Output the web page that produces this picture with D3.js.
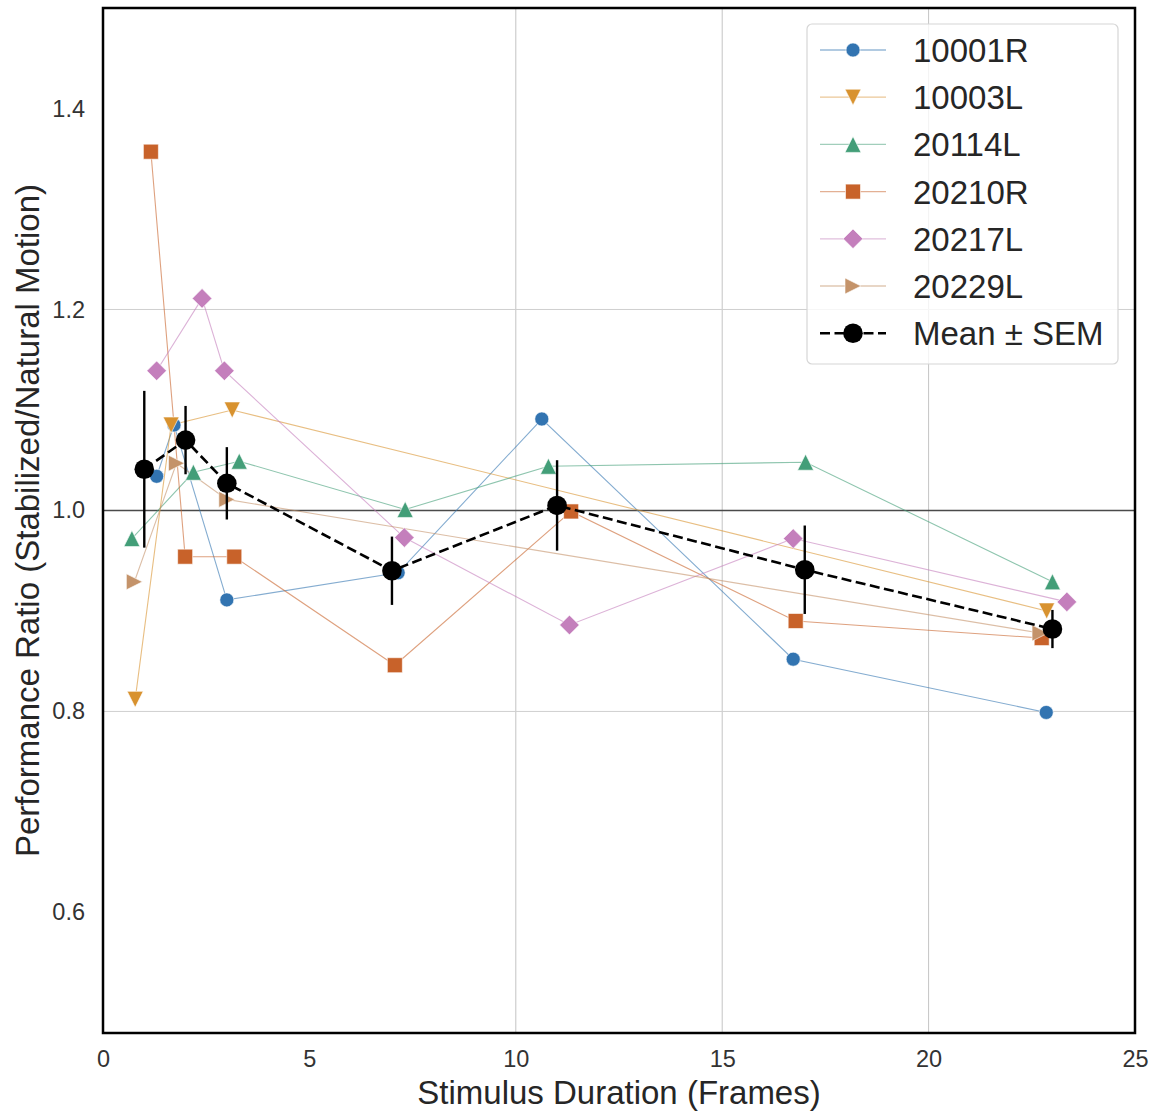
<!DOCTYPE html>
<html>
<head>
<meta charset="utf-8">
<script src="https://cdn.jsdelivr.net/npm/d3@7"></script>
<style>
  body { margin: 0; background: #fff; }
  text { font-family: "Liberation Sans", Arial, sans-serif; }
</style>
</head>
<body>
<div id="chart"></div>
<script>
// Subject series (x = stimulus duration in frames, jittered; y = performance ratio)
const subjects = ['10001R', '10003L', '20114L', '20210R', '20217L', '20229L'];
const colors = ['#3274b1', '#d8922f', '#439e78', '#c8622a', '#c47fbc', '#c4936a'];
const markers = ['circle', 'triDown', 'triUp', 'square', 'diamond', 'triRight'];

const x10001R = [1.30, 1.72, 3.00, 7.15, 10.63, 16.72, 22.85];
const y10001R = [1.034, 1.085, 0.911, 0.938, 1.091, 0.852, 0.799];
const x10003L = [0.78, 1.65, 3.13, 22.86];
const y10003L = [0.812, 1.085, 1.100, 0.900];
const x20114L = [0.70, 2.19, 3.30, 7.32, 10.79, 17.02, 23.00];
const y20114L = [0.972, 1.038, 1.049, 1.001, 1.044, 1.048, 0.929];
const x20210R = [1.16, 1.99, 3.18, 7.07, 11.34, 16.78, 22.74];
const y20210R = [1.357, 0.954, 0.954, 0.846, 0.999, 0.890, 0.873];
const x20217L = [1.30, 2.40, 2.94, 7.30, 11.30, 16.72, 23.35];
const y20217L = [1.139, 1.211, 1.139, 0.973, 0.886, 0.972, 0.909];
const x20229L = [0.76, 1.78, 3.00, 22.70];
const y20229L = [0.929, 1.047, 1.011, 0.878];

// Mean ± SEM across subjects
const meanX = [1, 2, 3, 7, 11, 17, 23];
const meanY = [1.041, 1.070, 1.027, 0.940, 1.005, 0.941, 0.882];
const meanSem = [0.078, 0.034, 0.036, 0.034, 0.045, 0.044, 0.019];

const xTicks = [0, 5, 10, 15, 20, 25];
const yTicks = [0.6, 0.8, 1.0, 1.2, 1.4];
const xGrid = [10, 15, 20];
const yGrid = [0.8, 1.2];

const seriesX = [x10001R, x10003L, x20114L, x20210R, x20217L, x20229L];
const seriesY = [y10001R, y10003L, y20114L, y20210R, y20217L, y20229L];
const series = subjects.map((name, i) => ({
  name,
  color: colors[i],
  marker: markers[i],
  points: seriesX[i].map((x, j) => ({ x, y: seriesY[i][j] }))
}));
const meanData = meanX.map((x, i) => ({ x, y: meanY[i], sem: meanSem[i] }));

const width = 1156, height = 1115;
const margin = { top: 8, right: 21, bottom: 82, left: 103 };
const innerW = width - margin.left - margin.right;
const innerH = height - margin.top - margin.bottom;

const x = d3.scaleLinear().domain([0, 25]).range([0, innerW]);
const y = d3.scaleLinear().domain([0.48, 1.5]).range([innerH, 0]);

const svg = d3.select('#chart').append('svg')
  .attr('width', width)
  .attr('height', height);

const g = svg.append('g').attr('transform', `translate(${margin.left},${margin.top})`);

// marker path generator (size s is roughly the half-width)
function markerPath(type, s) {
  switch (type) {
    case 'circle': return d3.symbol(d3.symbolCircle, Math.PI * s * s)();
    case 'square': return `M${-s},${-s}H${s}V${s}H${-s}Z`;
    case 'diamond': return `M0,${-s}L${s},0L0,${s}L${-s},0Z`;
    case 'triUp': return `M0,${-s}L${s},${s}L${-s},${s}Z`;
    case 'triDown': return `M0,${s}L${s},${-s}L${-s},${-s}Z`;
    case 'triRight': return `M${s},0L${-s},${s}L${-s},${-s}Z`;
  }
}
const markerSize = { circle: 7, square: 7.5, diamond: 9.8, triUp: 8, triDown: 8, triRight: 8 };

// gridlines
g.selectAll('.xgrid').data(xGrid).enter().append('line')
  .attr('class', 'xgrid')
  .attr('x1', d => x(d)).attr('x2', d => x(d))
  .attr('y1', 0).attr('y2', innerH)
  .attr('stroke', '#c4c4c4').attr('stroke-width', 1);

g.selectAll('.ygrid').data(yGrid).enter().append('line')
  .attr('class', 'ygrid')
  .attr('x1', 0).attr('x2', innerW)
  .attr('y1', d => y(d)).attr('y2', d => y(d))
  .attr('stroke', '#cfcfcf').attr('stroke-width', 1);

// reference line at 1.0
g.append('line')
  .attr('x1', 0).attr('x2', innerW)
  .attr('y1', y(1)).attr('y2', y(1))
  .attr('stroke', '#4a4a4a').attr('stroke-width', 1.5);

const line = d3.line().x(d => x(d.x)).y(d => y(d.y));

// subject lines
g.selectAll('.subject-line').data(series).enter().append('path')
  .attr('class', 'subject-line')
  .attr('d', d => line(d.points))
  .attr('fill', 'none')
  .attr('stroke', d => d.color)
  .attr('stroke-opacity', 0.6)
  .attr('stroke-width', 1.1);

// subject markers
series.forEach(s => {
  g.selectAll(null).data(s.points).enter().append('path')
    .attr('d', markerPath(s.marker, markerSize[s.marker]))
    .attr('transform', d => `translate(${x(d.x)},${y(d.y)})`)
    .attr('fill', s.color)
    .attr('stroke', '#fff')
    .attr('stroke-width', 0.6);
});

// mean line + error bars
g.append('path')
  .attr('d', line(meanData))
  .attr('fill', 'none')
  .attr('stroke', '#000')
  .attr('stroke-width', 2.6)
  .attr('stroke-dasharray', '10,4.5');

g.selectAll('.sem').data(meanData).enter().append('line')
  .attr('class', 'sem')
  .attr('x1', d => x(d.x)).attr('x2', d => x(d.x))
  .attr('y1', d => y(d.y - d.sem)).attr('y2', d => y(d.y + d.sem))
  .attr('stroke', '#000').attr('stroke-width', 2.4);

g.selectAll('.mean-pt').data(meanData).enter().append('circle')
  .attr('class', 'mean-pt')
  .attr('cx', d => x(d.x)).attr('cy', d => y(d.y))
  .attr('r', 9.8)
  .attr('fill', '#000');

// axes (tick labels only, seaborn white style)
const xAxis = g.append('g')
  .attr('transform', `translate(0,${innerH})`)
  .call(d3.axisBottom(x).tickValues(xTicks).tickSize(0).tickPadding(17).tickFormat(d3.format('d')));
const yAxis = g.append('g')
  .call(d3.axisLeft(y).tickValues(yTicks).tickSize(0).tickPadding(18).tickFormat(d3.format('.1f')));
[xAxis, yAxis].forEach(a => {
  a.select('.domain').remove();
  a.selectAll('text')
    .attr('font-size', 23.5)
    .attr('fill', '#333')
    .style('font-family', '"Liberation Sans", Arial, sans-serif');
});

// frame
g.append('rect')
  .attr('x', 0).attr('y', 0)
  .attr('width', innerW).attr('height', innerH)
  .attr('fill', 'none')
  .attr('stroke', '#000')
  .attr('stroke-width', 2.5);

// axis labels
svg.append('text')
  .attr('x', margin.left + innerW / 2)
  .attr('y', 1104)
  .attr('text-anchor', 'middle')
  .attr('font-size', 33)
  .attr('fill', '#262626')
  .text('Stimulus Duration (Frames)');

svg.append('text')
  .attr('transform', `translate(39,${margin.top + innerH / 2}) rotate(-90)`)
  .attr('text-anchor', 'middle')
  .attr('font-size', 33)
  .attr('fill', '#262626')
  .text('Performance Ratio (Stabilized/Natural Motion)');

// legend
const legend = svg.append('g').attr('transform', 'translate(807,24)');
legend.append('rect')
  .attr('width', 311).attr('height', 340)
  .attr('rx', 5)
  .attr('fill', '#fff').attr('fill-opacity', 0.8)
  .attr('stroke', '#d6d6d6').attr('stroke-width', 1.2);

const legendItems = series.map(s => ({ name: s.name, color: s.color, marker: s.marker, mean: false }))
  .concat([{ name: 'Mean ± SEM', color: '#000', marker: 'circle', mean: true }]);

const rows = legend.selectAll('.legend-row').data(legendItems).enter().append('g')
  .attr('class', 'legend-row')
  .attr('transform', (d, i) => `translate(0,${26 + i * 47.2})`);

rows.append('line')
  .attr('x1', 13).attr('x2', 79)
  .attr('stroke', d => d.color)
  .attr('stroke-opacity', d => d.mean ? 1 : 0.5)
  .attr('stroke-width', d => d.mean ? 2.6 : 1.3)
  .attr('stroke-dasharray', d => d.mean ? '10,4.5' : null);

rows.append('path')
  .attr('d', d => d.mean ? markerPath('circle', 9.8) : markerPath(d.marker, markerSize[d.marker]))
  .attr('transform', 'translate(46,0)')
  .attr('fill', d => d.color)
  .attr('stroke', d => d.mean ? 'none' : '#fff')
  .attr('stroke-width', 0.6);

rows.append('text')
  .attr('x', 106)
  .attr('y', 12)
  .attr('font-size', 33)
  .attr('fill', '#262626')
  .text(d => d.name);
</script>
</body>
</html>
